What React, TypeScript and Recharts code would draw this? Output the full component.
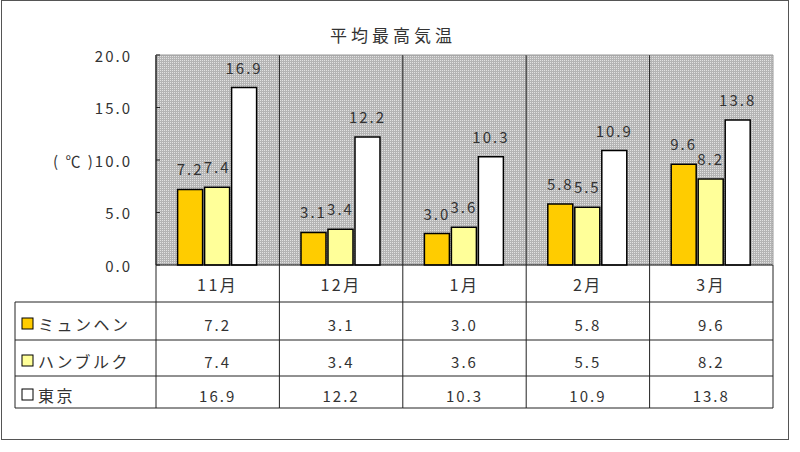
import { Bar, BarChart, CartesianGrid, LabelList, XAxis, YAxis } from "recharts";

const months = ["11月", "12月", "1月", "2月", "3月"];
const munich = [7.2, 3.1, 3.0, 5.8, 9.6];
const hamburg = [7.4, 3.4, 3.6, 5.5, 8.2];
const tokyo = [16.9, 12.2, 10.3, 10.9, 13.8];
const seriesNames = ["ミュンヘン", "ハンブルク", "東京"];
const seriesColors = ["#ffcc00", "#ffff99", "#ffffff"];
const yTicks = [0, 5, 10, 15, 20];

const seriesKeys = ["munich", "hamburg", "tokyo"];
const data = months.map((month, i) => ({
  month,
  munich: munich[i],
  hamburg: hamburg[i],
  tokyo: tokyo[i],
}));

// layout
const W = 800;
const H = 452;
const PLOT_LEFT = 156;
const PLOT_RIGHT = 773;
const PLOT_TOP = 55;
const PLOT_BOTTOM = 265;
const TABLE_LEFT = 15;
const ROW_LINES = [302, 340, 376, 408];
const TABLE_BOTTOM = ROW_LINES[ROW_LINES.length - 1];
const BAND = (PLOT_RIGHT - PLOT_LEFT) / months.length;
const Y_AXIS_W = 60;
const X_AXIS_H = TABLE_BOTTOM - PLOT_BOTTOM;

const FONT = "'Noto Sans CJK JP', 'Noto Sans', sans-serif";
const TEXT = "#333";
const LINE = "#222";

function YTick({ y, payload }: any) {
  return (
    <g>
      <line x1={PLOT_LEFT} x2={PLOT_LEFT + 4} y1={y} y2={y} stroke={LINE} />
      <text
        x={PLOT_LEFT - 24}
        y={y}
        textAnchor="end"
        dominantBaseline="central"
        fontSize={15}
        letterSpacing={2}
        fill={TEXT}
        fontFamily={FONT}
      >
        {payload.value === 10 ? "( ℃ )" : ""}
        {Number(payload.value).toFixed(1)}
      </text>
    </g>
  );
}

function TableTick({ x, payload }: any) {
  const i = months.indexOf(payload.value);
  const left = x - BAND / 2;
  const right = x + BAND / 2;
  const rows = [munich, hamburg, tokyo];
  return (
    <g fontFamily={FONT} fill={TEXT}>
      {i === 0 && (
        <g>
          <line x1={TABLE_LEFT} x2={TABLE_LEFT} y1={ROW_LINES[0]} y2={TABLE_BOTTOM} stroke={LINE} />
          {ROW_LINES.map((ly) => (
            <line key={ly} x1={TABLE_LEFT} x2={PLOT_LEFT} y1={ly} y2={ly} stroke={LINE} />
          ))}
          {seriesNames.map((name, s) => {
            const cy = (ROW_LINES[s] + ROW_LINES[s + 1]) / 2;
            return (
              <g key={name}>
                <rect x={22} y={cy - 3} width={11} height={11} fill={seriesColors[s]} stroke="#000" />
                <text
                  x={38}
                  y={cy + 3}
                  dominantBaseline="central"
                  fontSize={16}
                  letterSpacing={2.5}
                  fill={TEXT}
                >
                  {name}
                </text>
              </g>
            );
          })}
        </g>
      )}
      <line x1={left} x2={left} y1={PLOT_TOP} y2={TABLE_BOTTOM} stroke={LINE} />
      {i === months.length - 1 && (
        <g>
          <line x1={right} x2={right} y1={PLOT_TOP} y2={PLOT_BOTTOM} stroke="#999" />
          <line x1={right} x2={right} y1={PLOT_BOTTOM} y2={TABLE_BOTTOM} stroke={LINE} />
        </g>
      )}
      <line x1={left} x2={right} y1={PLOT_TOP} y2={PLOT_TOP} stroke="#999" />
      {ROW_LINES.map((ly) => (
        <line key={ly} x1={left} x2={right} y1={ly} y2={ly} stroke={LINE} />
      ))}
      <text
        x={x}
        y={(PLOT_BOTTOM + ROW_LINES[0]) / 2}
        textAnchor="middle"
        dominantBaseline="central"
        fontSize={16}
        letterSpacing={2.5}
        fill={TEXT}
      >
        {payload.value}
      </text>
      {rows.map((vals, s) => (
        <text
          key={s}
          x={x}
          y={(ROW_LINES[s] + ROW_LINES[s + 1]) / 2 + 3}
          textAnchor="middle"
          dominantBaseline="central"
          fontSize={15}
          letterSpacing={2}
          fill={TEXT}
        >
          {vals[i].toFixed(1)}
        </text>
      ))}
    </g>
  );
}

export default function App() {
  return (
    <div style={{ position: "absolute", left: 0, top: 0, width: W, height: H, background: "#fff" }}>
      <div
        style={{
          position: "absolute",
          left: 1,
          top: 0,
          width: 788,
          height: 440,
          border: "1.5px solid #555",
          boxSizing: "border-box",
        }}
      />
      <div
        style={{
          position: "absolute",
          left: 0,
          width: 786,
          top: 22,
          textAlign: "center",
          fontFamily: FONT,
          fontSize: 17,
          letterSpacing: 4,
          color: TEXT,
        }}
      >
        平均最高気温
      </div>
      <div style={{ position: "absolute", left: 0, top: 0 }}>
        <svg width={0} height={0} style={{ position: "absolute" }}>
          <defs>
            <pattern id="mesh" width={2} height={2} patternUnits="userSpaceOnUse">
              <rect width={2} height={2} fill="#b4b4b4" />
              <rect width={1} height={1} fill="#e2e2e2" />
            </pattern>
          </defs>
        </svg>
        <BarChart
          width={W}
          height={H}
          data={data}
          barCategoryGap="17.5%"
          barGap={2}
          margin={{
            top: PLOT_TOP,
            right: W - PLOT_RIGHT,
            left: PLOT_LEFT - Y_AXIS_W,
            bottom: H - PLOT_BOTTOM - X_AXIS_H,
          }}
        >
          <CartesianGrid horizontal={false} vertical={false} fill="url(#mesh)" />
          <XAxis
            dataKey="month"
            interval={0}
            height={X_AXIS_H}
            tickLine={false}
            axisLine={{ stroke: "#000" }}
            tick={<TableTick />}
          />
          <YAxis
            width={Y_AXIS_W}
            domain={[0, 20]}
            ticks={yTicks}
            tickLine={false}
            axisLine={{ stroke: LINE }}
            tick={<YTick />}
          />
          {seriesKeys.map((key, s) => (
            <Bar
              key={key}
              dataKey={key}
              name={seriesNames[s]}
              fill={seriesColors[s]}
              stroke="#000"
              strokeWidth={1.5}
              isAnimationActive={false}
            >
              <LabelList
                dataKey={key}
                position="top"
                offset={14}
                formatter={(v: any) => Number(v).toFixed(1)}
                fontSize={15}
                letterSpacing={2}
                fill={TEXT}
                fontFamily={FONT}
              />
            </Bar>
          ))}
        </BarChart>
      </div>
    </div>
  );
}
